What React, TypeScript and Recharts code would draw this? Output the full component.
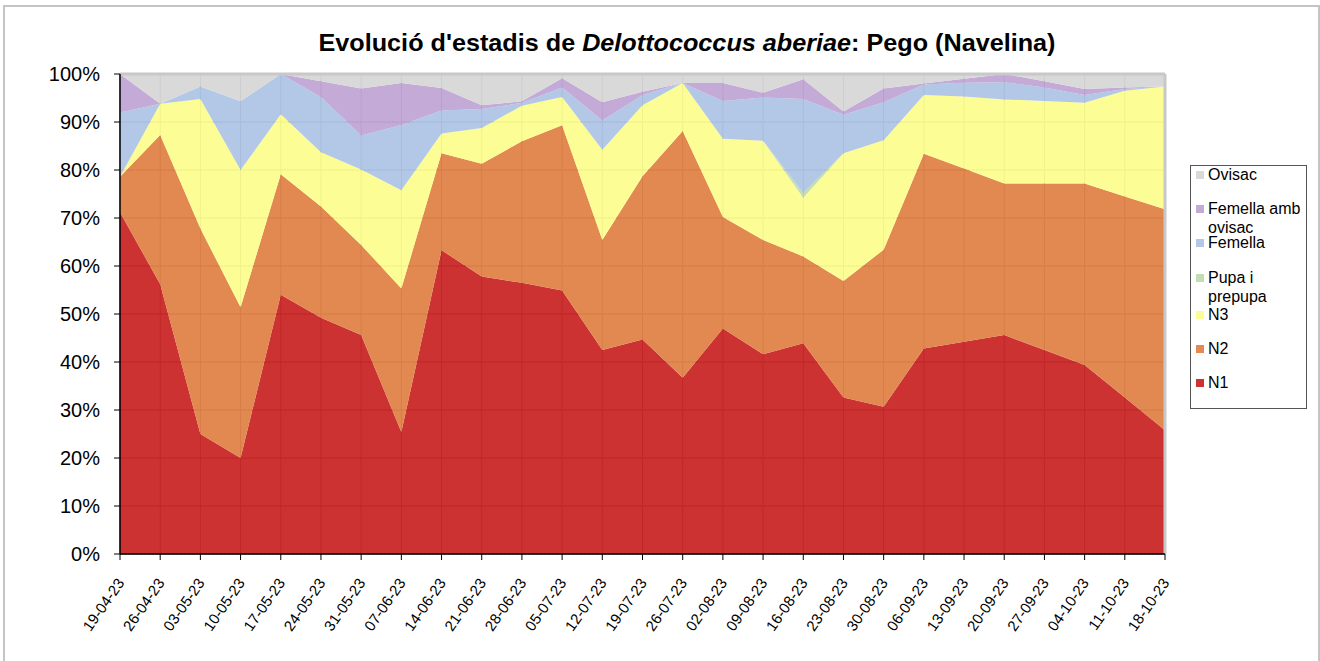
import React from "react";
import { AreaChart, Area, XAxis, YAxis, CartesianGrid, ReferenceLine } from "recharts";

const dates = ["19-04-23","26-04-23","03-05-23","10-05-23","17-05-23","24-05-23","31-05-23","07-06-23","14-06-23","21-06-23","28-06-23","05-07-23","12-07-23","19-07-23","26-07-23","02-08-23","09-08-23","16-08-23","23-08-23","30-08-23","06-09-23","13-09-23","20-09-23","27-09-23","04-10-23","11-10-23","18-10-23"];
const n1 = [71.2,56.2,25,20,54,49.2,45.6,25.4,63.3,57.8,56.5,54.9,42.5,44.7,36.7,47,41.6,43.9,32.6,30.7,42.8,44.2,45.6,42.5,39.4,32.6,25.8];
const n2 = [7.4,31.1,42.8,31.4,25.1,23.2,18.8,29.9,20.2,23.5,29.5,34.4,22.9,34,51.4,23.2,23.8,18.1,24.3,32.7,40.6,36.1,31.6,34.7,37.8,41.9,46];
const n3 = [0,6.5,27,28.6,12.5,11.3,15.7,20.5,4.1,7.45,7.4,5.9,18.8,14.8,10,16.3,20.7,12.2,26.6,22.8,12.2,15,17.5,17.2,16.8,22,25.6];
const pupa = [0,0,0,0,0,0,0,0,0,0,0,0,0,0,0,0,0,1,0,0,0,0,0,0,0,0,0];
const femella = [13.4,0,2.6,14.3,8.4,11.5,7.1,13.6,4.8,3.95,0.6,2,6.1,2.1,0,7.9,9,19.6,8,7.9,2.2,2.9,3.6,2.8,1.6,0.4,0];
const femellaOvisac = [8,0,0,0,0,3.3,9.8,8.7,4.7,0.8,0.3,1.9,3.8,0.7,0,3.7,1,4.1,0.7,2.9,0.2,0.8,1.7,1.3,1.3,0.3,0];
const ovisac = [0,6.2,2.6,5.7,0,1.5,3,1.9,2.9,6.5,5.7,0.9,5.9,3.7,1.9,1.9,3.9,1.1,7.8,3,2,1,0,1.5,3.1,2.8,2.6];
const yTicks = [0,10,20,30,40,50,60,70,80,90,100];

const series = [
  { key: "n1", name: "N1", fill: "#C61C1C", shown: "#CC3333" },
  { key: "n2", name: "N2", fill: "#DF7C3F", shown: "#E28A52" },
  { key: "n3", name: "N3", fill: "#FDFD8A", shown: "#FDFD96" },
  { key: "pupa", name: "Pupa i prepupa", fill: "#BDDAAC", shown: "#C4DEB4" },
  { key: "femella", name: "Femella", fill: "#ABC1E3", shown: "#B3C7E6" },
  { key: "femellaOvisac", name: "Femella amb ovisac", fill: "#BEA1D2", shown: "#C5AAD7" },
  { key: "ovisac", name: "Ovisac", fill: "#D5D5D5", shown: "#D9D9D9" },
];

const data = dates.map((d, i) => ({
  date: d,
  n1: n1[i], n2: n2[i], n3: n3[i], pupa: pupa[i],
  femella: femella[i], femellaOvisac: femellaOvisac[i], ovisac: ovisac[i],
}));

const legendItems = [
  { name: ["Ovisac"], color: "#D9D9D9", y: 175 },
  { name: ["Femella amb", "ovisac"], color: "#C5AAD7", y: 209 },
  { name: ["Femella"], color: "#B3C7E6", y: 243 },
  { name: ["Pupa i", "prepupa"], color: "#C4DEB4", y: 278 },
  { name: ["N3"], color: "#FDFD96", y: 315 },
  { name: ["N2"], color: "#E28A52", y: 349 },
  { name: ["N1"], color: "#CC3333", y: 383 },
];

const XTick = (props: any) => {
  const { x, y, payload } = props;
  const px = x + 5;
  const py = y + 21;
  return (
    <text x={px} y={py} transform={`rotate(-55, ${px}, ${py})`} textAnchor="end"
      fontFamily="Liberation Sans, Arial, sans-serif" fontSize={15} fill="#000">
      {payload.value}
    </text>
  );
};

export default function App() {
  return (
    <div style={{ position: "absolute", left: 0, top: 0, width: 1320, height: 661, background: "#fff", overflow: "hidden" }}>
      <div style={{ position: "absolute", left: 3, top: 5, width: 1313, height: 660, borderTop: "2px solid #c4c4c4", borderLeft: "2px solid #c4c4c4", borderRight: "2px solid #c4c4c4" }} />
      <svg style={{ position: "absolute", left: 0, top: 0 }} width={1320} height={70}>
        <text x={687} y={51} textAnchor="middle" fontFamily="Liberation Sans, Arial, sans-serif" fontWeight="bold" fontSize={24} fill="#000" textLength={737} lengthAdjust="spacingAndGlyphs">
          Evolució d'estadis de <tspan fontStyle="italic">Delottococcus aberiae</tspan>: Pego (Navelina)
        </text>
      </svg>
      <div style={{ position: "absolute", left: 0, top: 0 }}>
        <AreaChart width={1320} height={661} data={data} margin={{ top: 74, right: 155, bottom: 27, left: 60 }}>
          <CartesianGrid vertical={true} horizontal={true} stroke="#8a8a8a" strokeDasharray="" horizontalPoints={[]} />
          <CartesianGrid vertical={false} horizontal={true} stroke="#8a8a8a" strokeDasharray="2 2" />
          <XAxis dataKey="date" interval={0} tick={<XTick />} tickLine={{ stroke: "#000" }} axisLine={{ stroke: "#000", strokeWidth: 1.5 }} tickSize={6} height={80} />
          <YAxis domain={[0, 100]} ticks={yTicks} tickFormatter={(v: number) => `${v}%`} width={60} tickSize={6} tickMargin={14}
            tick={{ fontFamily: "Liberation Sans, Arial, sans-serif", fontSize: 20, fill: "#000" }}
            tickLine={{ stroke: "#000" }} axisLine={{ stroke: "#000", strokeWidth: 1.5 }} allowDataOverflow />
          {series.map((s) => (
            <Area key={s.key} type="linear" dataKey={s.key} name={s.name} stackId="1" stroke="none" fill={s.fill} fillOpacity={0.9} isAnimationActive={false} />
          ))}
          <ReferenceLine y={100} stroke="#c8c8c8" strokeWidth={3} />
          <ReferenceLine x={dates[dates.length - 1]} stroke="#c8c8c8" strokeWidth={3} />
        </AreaChart>
      </div>
      <div style={{ position: "absolute", left: 1190, top: 165, width: 117, height: 244, border: "1px solid #555", boxSizing: "border-box", fontFamily: "Liberation Sans, Arial, sans-serif", fontSize: 16, color: "#000" }}>
        {legendItems.map((it) => (
          <div key={it.name.join(" ")}>
            <div style={{ position: "absolute", left: 5, top: it.y - 165 - 5, width: 8, height: 8, background: it.color }} />
            {it.name.map((line, j) => (
              <div key={j} style={{ position: "absolute", left: 17, top: it.y - 165 - 10 + j * 18.5, lineHeight: "18px", whiteSpace: "nowrap" }}>{line}</div>
            ))}
          </div>
        ))}
      </div>
    </div>
  );
}
